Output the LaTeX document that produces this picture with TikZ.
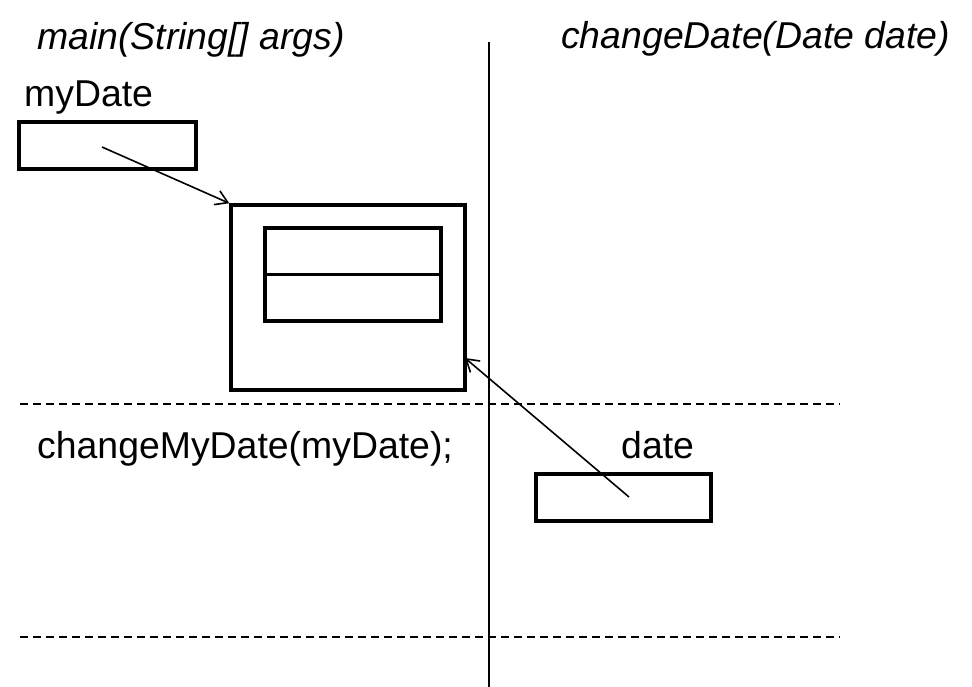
\documentclass[tikz,border=0pt]{standalone}
\usepackage{fontspec}
\setmainfont{Liberation Sans}
\usepackage{tikz}
\usetikzlibrary{arrows.meta}

\tikzset{
  cell/.style={draw, line width=3.5pt, inner sep=0pt},
  label/.style={anchor=base west, inner sep=0pt, font=\fontsize{37.4}{40}\selectfont},
  divider/.style={line width=1.8pt},
}

\begin{document}
\begin{tikzpicture}[x=1pt, y=-1pt, >={Straight Barb[length=12pt,width=15pt]}]
  \useasboundingbox (0,0) rectangle (972,687);
  % frames
  \draw[divider] (489,42) -- (489,687);
  \draw[divider, dash pattern=on 8pt off 5pt] (20,404) -- (840,404);
  \draw[divider, dash pattern=on 8pt off 5pt] (20,637) -- (840,637);
  % texts
  \node[label] (mainsig) at (37,50) {\itshape main(String[] args)};
  \node[label] (changesig) at (561,49) {\itshape changeDate(Date date)};
  \node[label] (mydatelbl) at (24,107) {myDate};
  \node[label] (call) at (37,458) {changeMyDate(myDate);};
  \node[label] (datelbl) at (621,458) {date};
  % boxes
  \node[cell, minimum width=177pt, minimum height=47pt] (mydate) at (107.5,145.5) {};
  \node[cell, minimum width=234pt, minimum height=185pt] (obj) at (348,297.5) {};
  \node[cell, minimum width=176pt, minimum height=46.5pt] (fieldA) at (353,251.25) {};
  \node[cell, minimum width=176pt, minimum height=46.5pt] (fieldB) at (353,297.75) {};
  \node[cell, minimum width=175pt, minimum height=47pt] (date) at (623.5,497.5) {};
  % references
  \coordinate (mystart) at (102,147);
  \coordinate (datestart) at (629,497);
  \coordinate (hit) at (465,358);
  \draw[->, line width=1.6pt] (mystart) -- (obj.north west);
  \draw[->, line width=1.6pt] (datestart) -- (hit);
\end{tikzpicture}
\end{document}
